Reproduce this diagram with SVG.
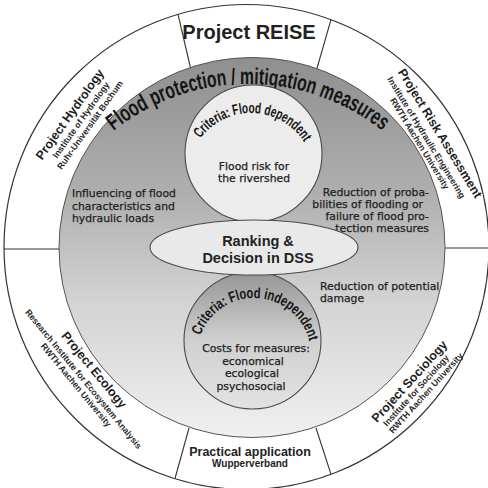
<svg xmlns="http://www.w3.org/2000/svg" width="488" height="488" viewBox="0 0 488 488">
  <defs>
    <linearGradient id="gMeasures" x1="0" y1="0" x2="0" y2="1">
      <stop offset="0" stop-color="#8f8f8f"/>
      <stop offset="0.35" stop-color="#aeaeae"/>
      <stop offset="0.65" stop-color="#d4d4d4"/>
      <stop offset="1" stop-color="#f0f0f0"/>
    </linearGradient>
    <linearGradient id="gIndep" x1="0" y1="0" x2="0" y2="1">
      <stop offset="0" stop-color="#959595"/>
      <stop offset="0.5" stop-color="#d0d0d0"/>
      <stop offset="1" stop-color="#e2e2e2"/>
    </linearGradient>
    <!-- baselines for curved labels -->
    <path id="pMeasures" d="M109.16,134.54 A216,216 0 0 1 386.84,134.54"/>
    <path id="pDep" d="M196.44,144.5 A63,63 0 0 1 307.62,148.38"/>
    <path id="pIndep" d="M199.79,337.39 A57,57 0 0 1 309.75,343.15"/>
  </defs>
  <style>
    .ring{fill:#ffffff;stroke:#333333;stroke-width:1.2}
    .div{stroke:#333333;stroke-width:1.1;fill:none}
    .bubble{stroke:#4a4a4a;stroke-width:1.1}
    .proj{font-family:"Liberation Sans",Arial,sans-serif;font-weight:bold;font-size:12.5px;fill:#1e1e1e;text-anchor:middle}
    .inst{font-family:"Liberation Sans",Arial,sans-serif;font-weight:bold;font-size:8.8px;fill:#2a2a2a;text-anchor:middle}
    .body{font-family:"DejaVu Sans",sans-serif;font-size:10.8px;fill:#222222;stroke:#222222;stroke-width:0.25}
    .arc{font-family:"Liberation Sans",Arial,sans-serif;font-weight:bold;fill:#151515}
    .big{font-family:"Liberation Sans",Arial,sans-serif;font-weight:bold;fill:#222222}
  </style>

  <rect width="488" height="488" fill="#ffffff"/>

  <!-- outer ring of partner projects -->
  <circle id="ring" class="ring" cx="246.5" cy="247" r="242.5"/>

  <!-- sector dividers of the outer ring -->
  <g id="dividers">
    <line class="div" x1="178" y1="14.4" x2="191" y2="70"/>
    <line class="div" x1="331" y1="19.7" x2="316.5" y2="70"/>
    <line class="div" x1="175" y1="478.5" x2="189" y2="428"/>
    <line class="div" x1="331" y1="474.3" x2="316" y2="428"/>
    <line class="div" x1="4" y1="249" x2="65" y2="249"/>
    <line class="div" x1="440" y1="248" x2="488" y2="248"/>
  </g>

  <!-- central disc: measures -->
  <g id="node-measures">
    <ellipse cx="252" cy="247.5" rx="193" ry="190" fill="url(#gMeasures)" stroke="#555555" stroke-width="1"/>
    <text class="arc" font-size="23">
      <textPath href="#pMeasures" startOffset="50%" text-anchor="middle" textLength="290" lengthAdjust="spacingAndGlyphs">Flood protection / mitigation measures</textPath>
    </text>
    <text class="body" x="72" y="197">Influencing of flood</text>
    <text class="body" x="72" y="209.5">characteristics and</text>
    <text class="body" x="72" y="222">hydraulic loads</text>
    <text class="body" text-anchor="end" x="429" y="195.5">Reduction of proba-</text>
    <text class="body" text-anchor="end" x="423" y="207.8">bilities of flooding or</text>
    <text class="body" text-anchor="end" x="429" y="220.1">failure of flood pro-</text>
    <text class="body" text-anchor="end" x="429" y="232.4">tection measures</text>
    <text class="body" x="320" y="289.5">Reduction of potential</text>
    <text class="body" x="320" y="302">damage</text>
  </g>

  <!-- flood dependent criteria -->
  <g id="node-dependent">
    <circle class="bubble" cx="253.5" cy="153.5" r="68.5" fill="#ececec"/>
    <text class="arc" font-size="15">
      <textPath href="#pDep" startOffset="50%" text-anchor="middle" textLength="122" lengthAdjust="spacingAndGlyphs">Criteria: Flood dependent</textPath>
    </text>
    <text class="body" text-anchor="middle" x="254" y="169.5">Flood risk for</text>
    <text class="body" text-anchor="middle" x="254" y="181.5">the rivershed</text>
  </g>

  <!-- flood independent criteria -->
  <g id="node-independent">
    <circle class="bubble" cx="252.5" cy="340.5" r="68.5" fill="url(#gIndep)"/>
    <text class="arc" font-size="15">
      <textPath href="#pIndep" startOffset="50%" text-anchor="middle" textLength="145" lengthAdjust="spacingAndGlyphs">Criteria: Flood independent</textPath>
    </text>
    <text class="body" text-anchor="middle" x="256" y="352">Costs for measures:</text>
    <text class="body" text-anchor="middle" x="253" y="364.5">economical</text>
    <text class="body" text-anchor="middle" x="252" y="377">ecological</text>
    <text class="body" text-anchor="middle" x="251" y="389.5">psychosocial</text>
  </g>

  <!-- decision support -->
  <g id="node-dss">
    <ellipse class="bubble" cx="254" cy="247.5" rx="104" ry="27.5" fill="#e9e9e9"/>
    <text class="big" font-size="14.5" text-anchor="middle" x="258" y="246">Ranking &amp;</text>
    <text class="big" font-size="14.5" text-anchor="middle" x="258" y="263">Decision in DSS</text>
  </g>

  <g id="node-reise">
    <text class="big" font-size="20" text-anchor="middle" x="249" y="38.5">Project REISE</text>
  </g>

  <!-- partner labels: straight, rotated along their sector -->
  <g id="node-hydrology">
    <text class="proj" transform="translate(70 114.5) rotate(-54.5)" y="4">Project Hydrology</text>
    <text class="inst" transform="translate(81 120) rotate(-54.5)" y="3">Institute of Hydrology</text>
    <text class="inst" transform="translate(90 125) rotate(-54.5)" y="3">Ruhr-Universität Bochum</text>
  </g>

  <g id="node-risk">
    <text class="proj" transform="translate(439.9 133.4) rotate(58.5)" y="4">Project Risk Assessment</text>
    <text class="inst" transform="translate(426.4 137.5) rotate(58.5)" y="3">Institute of Hydraulic Engineering</text>
    <text class="inst" transform="translate(419.7 143.5) rotate(58.5)" y="3">RWTH Aachen University</text>
  </g>

  <g id="node-ecology">
    <text class="proj" transform="translate(94 370) rotate(50.5)" y="4">Project Ecology</text>
    <text class="inst" transform="translate(83.5 379) rotate(50.5)" y="3">Research Institute for Ecosystem Analysis</text>
    <text class="inst" transform="translate(76 385) rotate(50.5)" y="3">RWTH Aachen University</text>
  </g>

  <g id="node-sociology">
    <text class="proj" transform="translate(409.6 381.5) rotate(-47.8)" y="4">Project Sociology</text>
    <text class="inst" transform="translate(416 390.5) rotate(-47.8)" y="3">Institute for Sociology</text>
    <text class="inst" transform="translate(426 393) rotate(-47.8)" y="3">RWTH Aachen University</text>
  </g>

  <g id="node-practice">
    <text class="big" font-size="12.5" text-anchor="middle" x="250" y="456">Practical application</text>
    <text class="big" font-size="10" text-anchor="middle" x="250" y="467">Wupperverband</text>
  </g>
</svg>
